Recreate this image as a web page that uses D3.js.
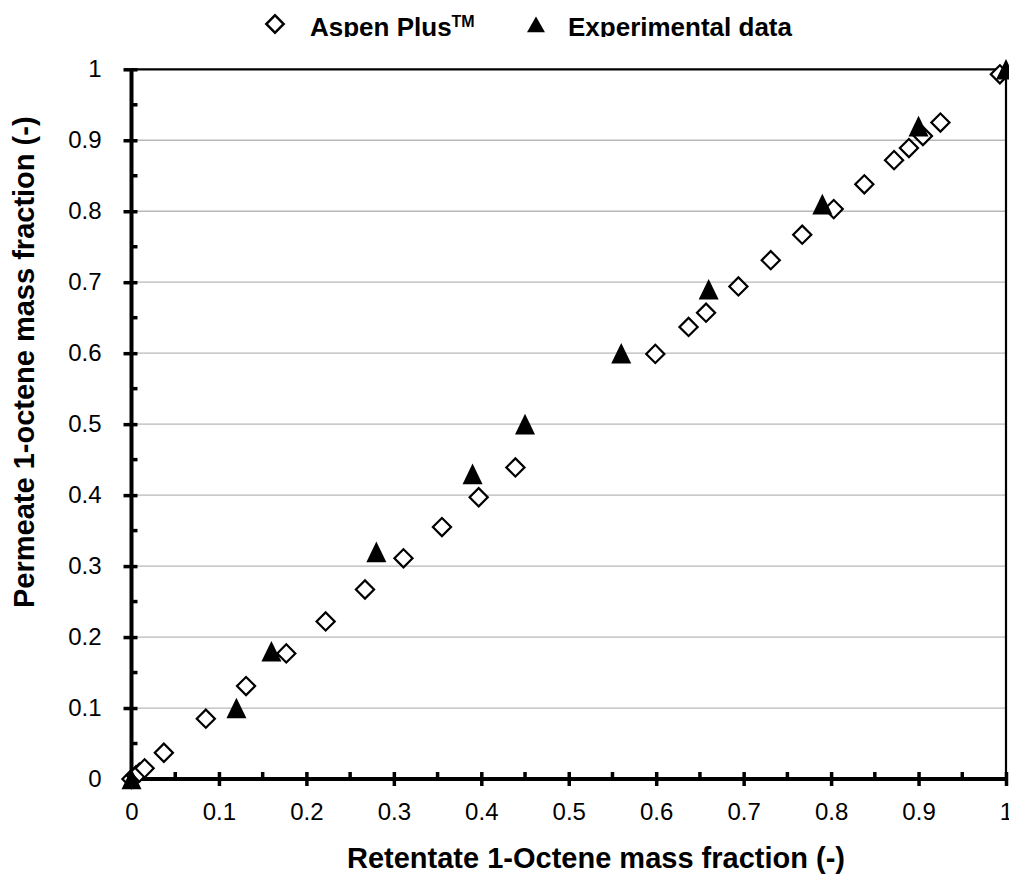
<!DOCTYPE html>
<html>
<head>
<meta charset="utf-8">
<script src="https://cdn.jsdelivr.net/npm/d3@7"></script>
<style>
  html, body { margin: 0; padding: 0; background: #fff; }
  svg { display: block; font-family: "Liberation Sans", Arial, sans-serif; }
</style>
</head>
<body>
<svg id="chart" width="1009" height="875"></svg>
<script>
// Aspen Plus simulation: retentate vs permeate 1-octene mass fraction
const aspenX = [0, 0.005, 0.009, 0.015, 0.037, 0.085, 0.131, 0.177, 0.222, 0.267, 0.311, 0.355, 0.397, 0.439,
                0.599, 0.637, 0.657, 0.694, 0.731, 0.767, 0.803, 0.838, 0.872, 0.889, 0.905, 0.925, 0.993];
const aspenY = [0, 0.005, 0.009, 0.015, 0.037, 0.085, 0.131, 0.177, 0.222, 0.267, 0.311, 0.355, 0.397, 0.439,
                0.599, 0.637, 0.657, 0.694, 0.731, 0.767, 0.803, 0.838, 0.872, 0.889, 0.906, 0.925, 0.993];

// Experimental measurements
const expX = [0, 0.12, 0.16, 0.28, 0.39, 0.45, 0.56, 0.66, 0.79, 0.90, 1.0];
const expY = [0, 0.10, 0.18, 0.32, 0.43, 0.50, 0.60, 0.69, 0.81, 0.92, 1.0];

const majorTicks = [0, 0.1, 0.2, 0.3, 0.4, 0.5, 0.6, 0.7, 0.8, 0.9, 1];
const minorTicks = [0.05, 0.15, 0.25, 0.35, 0.45, 0.55, 0.65, 0.75, 0.85, 0.95];
const tickLabels = ["0", "0.1", "0.2", "0.3", "0.4", "0.5", "0.6", "0.7", "0.8", "0.9", "1"];

const seriesNames = ["Aspen Plus", "Experimental data"];
const xTitle = "Retentate 1-Octene mass fraction (-)";
const yTitle = "Permeate 1-octene mass fraction (-)";

const svg = d3.select("#chart");
const plotLeft = 131.5, plotRight = 1006, plotTop = 69.3, plotBottom = 779;

const x = d3.scaleLinear().domain([0, 1]).range([plotLeft, plotRight]);
const y = d3.scaleLinear().domain([0, 1]).range([plotBottom, plotTop]);

// Horizontal gridlines
svg.append("g").selectAll("line")
  .data(majorTicks.filter(d => d > 0 && d < 1))
  .join("line")
  .attr("x1", plotLeft).attr("x2", plotRight)
  .attr("y1", d => y(d)).attr("y2", d => y(d))
  .attr("stroke", "#b8b8b8").attr("stroke-width", 1.3);

// Plot border (top and right)
svg.append("line").attr("x1", plotLeft).attr("x2", plotRight).attr("y1", y(1)).attr("y2", y(1))
  .attr("stroke", "#000").attr("stroke-width", 2.2);
svg.append("line").attr("x1", x(1)).attr("x2", x(1)).attr("y1", plotTop).attr("y2", plotBottom)
  .attr("stroke", "#000").attr("stroke-width", 2.2);

const fmt = d => tickLabels[majorTicks.indexOf(d)];

// X axis: major ticks cross the line, minor ticks point inward
const xAxis = svg.append("g").attr("transform", `translate(0,${plotBottom})`)
  .call(d3.axisBottom(x).tickValues(majorTicks).tickFormat(fmt).tickSizeInner(7).tickSizeOuter(0).tickPadding(14));
xAxis.select(".domain").attr("stroke-width", 4).attr("d", `M${plotLeft},0H${plotRight}`);
xAxis.selectAll(".tick line").attr("y1", -7).attr("y2", 7).attr("stroke-width", 3.5);
xAxis.selectAll(".tick text").attr("font-size", 24).attr("fill", "#000").attr("y", 0).attr("dy", "41px");
xAxis.append("g").selectAll("line").data(minorTicks).join("line")
  .attr("x1", d => x(d)).attr("x2", d => x(d)).attr("y1", 0).attr("y2", -7)
  .attr("stroke", "#000").attr("stroke-width", 3.5);

// Y axis
const yAxis = svg.append("g").attr("transform", `translate(${plotLeft},0)`)
  .call(d3.axisLeft(y).tickValues(majorTicks).tickFormat(fmt).tickSizeInner(7).tickSizeOuter(0).tickPadding(23));
yAxis.select(".domain").attr("stroke-width", 4).attr("d", `M0,${plotTop}V${plotBottom}`);
yAxis.selectAll(".tick line").attr("x1", -8).attr("x2", 6).attr("stroke-width", 3.5);
yAxis.selectAll(".tick text").attr("font-size", 24).attr("fill", "#000");
yAxis.append("g").selectAll("line").data(minorTicks).join("line")
  .attr("x1", 0).attr("x2", 6).attr("y1", d => y(d)).attr("y2", d => y(d))
  .attr("stroke", "#000").attr("stroke-width", 3.5);

// Axis titles
svg.append("text").attr("x", 347).attr("y", 868)
  .attr("font-size", 29).attr("font-weight", "bold").text(xTitle);
svg.append("text").attr("transform", "translate(34,608) rotate(-90)")
  .attr("font-size", 29).attr("font-weight", "bold").text(yTitle);

// Marker shapes: open diamond and filled triangle
const diamond = d3.symbol().type(d3.symbolSquare).size(165)();
const triangleType = {
  draw(ctx, size) {
    const w = Math.sqrt(size) / 2, h = w * 1.03;
    ctx.moveTo(0, -h); ctx.lineTo(w, h); ctx.lineTo(-w, h); ctx.closePath();
  }
};
const triangle = d3.symbol().type(triangleType).size(400)();

// Aspen Plus diamonds
svg.append("g").selectAll("path")
  .data(d3.zip(aspenX, aspenY))
  .join("path")
  .attr("d", diamond)
  .attr("transform", d => `translate(${x(d[0])},${y(d[1])}) rotate(45)`)
  .attr("fill", "#fff").attr("stroke", "#000").attr("stroke-width", 2.2);

// Experimental triangles
svg.append("g").selectAll("path")
  .data(d3.zip(expX, expY))
  .join("path")
  .attr("d", triangle)
  .attr("transform", d => `translate(${x(d[0])},${y(d[1])})`)
  .attr("fill", "#000");

// Legend, clipped along its lower edge
svg.append("clipPath").attr("id", "legclip")
  .append("rect").attr("x", 0).attr("y", 0).attr("width", 1009).attr("height", 37);
const leg = svg.append("g").attr("clip-path", "url(#legclip)");
leg.append("path").attr("d", d3.symbol().type(d3.symbolSquare).size(150)())
  .attr("transform", "translate(275,24) rotate(45)")
  .attr("fill", "#fff").attr("stroke", "#000").attr("stroke-width", 2.5);
const t1 = leg.append("text").attr("x", 310).attr("y", 36).attr("font-size", 26).attr("font-weight", "bold");
t1.append("tspan").text(seriesNames[0]);
t1.append("tspan").attr("font-size", 16).attr("dy", -9).text("TM");
leg.append("path").attr("d", d3.symbol().type(d3.symbolTriangle).size(140)())
  .attr("transform", "translate(536,27)").attr("fill", "#000");
leg.append("text").attr("x", 568).attr("y", 36).attr("font-size", 26).attr("font-weight", "bold").text(seriesNames[1]);
</script>
</body>
</html>
